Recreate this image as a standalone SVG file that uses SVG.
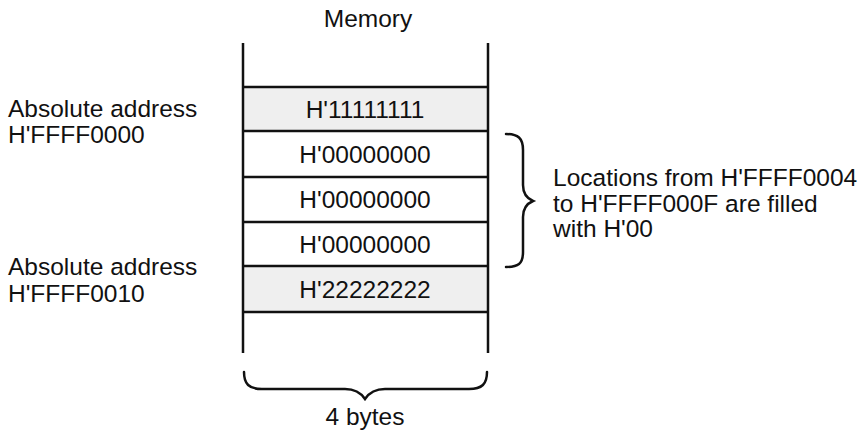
<svg xmlns="http://www.w3.org/2000/svg" width="865" height="434" viewBox="0 0 865 434">
<style>
text{font-family:"Liberation Sans",Arial,sans-serif;font-size:24.5px;fill:#111}
.c{text-anchor:middle}
.ln{stroke:#111;stroke-width:2.5;fill:none}
.gray{fill:#efefef}
.br{stroke:#111;stroke-width:2.5;fill:none;stroke-linecap:round}
</style>
<rect width="865" height="434" fill="#fff"/>
<text class="c" x="368" y="27">Memory</text>
<g id="cell1"><rect class="gray" x="243" y="87" width="245" height="44"/><text class="c" x="365" y="118">H'11111111</text></g>
<g id="cell2"><text class="c" x="365" y="163">H'00000000</text></g>
<g id="cell3"><text class="c" x="365" y="208">H'00000000</text></g>
<g id="cell4"><text class="c" x="365" y="253">H'00000000</text></g>
<g id="cell5"><rect class="gray" x="243" y="266" width="245" height="46"/><text class="c" x="365" y="298">H'22222222</text></g>
<g id="frame">
<line class="ln" x1="243" y1="43" x2="243" y2="353"/>
<line class="ln" x1="488" y1="43" x2="488" y2="353"/>
<line class="ln" x1="243" y1="87" x2="488" y2="87"/>
<line class="ln" x1="243" y1="131" x2="488" y2="131"/>
<line class="ln" x1="243" y1="177" x2="488" y2="177"/>
<line class="ln" x1="243" y1="222" x2="488" y2="222"/>
<line class="ln" x1="243" y1="266" x2="488" y2="266"/>
<line class="ln" x1="243" y1="312" x2="488" y2="312"/>
</g>
<g id="label-addr0"><text x="8" y="117">Absolute address</text><text x="8" y="143">H'FFFF0000</text></g>
<g id="label-addr10"><text x="8" y="275">Absolute address</text><text x="8" y="302">H'FFFF0010</text></g>
<g id="brace-right"><path class="br" d="M506,134 C518,134 523,138 523,150 L523,185 C523,193 526,198 533,201 C526,204 523,209 523,217 L523,252 C523,264 518,267 506,267"/></g>
<g id="label-fill"><text x="553" y="186">Locations from H'FFFF0004</text><text x="553" y="212">to H'FFFF000F are filled</text><text x="553" y="237">with H'00</text></g>
<g id="brace-bottom"><path class="br" d="M244,372 C244,384 249,389 262,389 L345,389 C355,389 361,393 365,399 C369,393 375,389 385,389 L469,389 C482,389 487,384 487,372"/></g>
<text class="c" x="365" y="425">4 bytes</text>
</svg>
